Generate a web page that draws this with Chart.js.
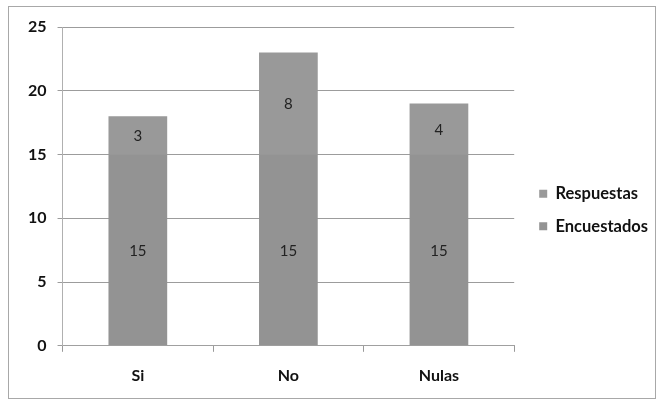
<!DOCTYPE html>
<html><head><meta charset="utf-8">
<script src="https://cdn.jsdelivr.net/npm/chart.js@4.4.0/dist/chart.umd.min.js"></script>
<style>
html,body{margin:0;padding:0;background:#fff;}
#wrap{position:relative;width:660px;height:403px;}
#frame{position:absolute;left:8px;top:6px;width:646px;height:391px;border:1px solid #a8a8a8;pointer-events:none;}
canvas{position:absolute;left:0;top:0;}
</style></head>
<body>
<div id="wrap"><canvas id="c" width="660" height="403"></canvas><div id="frame"></div></div>
<script>
const categories = ["Si", "No", "Nulas"];
const encuestados = [15, 15, 15];
const respuestas = [3, 8, 4];
const yTicks = [0, 5, 10, 15, 20, 25];

const labelPlugin = {
  id: 'barLabels',
  afterDatasetsDraw(chart) {
    const ctx = chart.ctx;
    ctx.save();
    ctx.font = '15px Lato';
    ctx.fillStyle = '#222';
    ctx.textAlign = 'center';
    ctx.textBaseline = 'middle';
    chart.data.datasets.forEach((ds, i) => {
      const meta = chart.getDatasetMeta(i);
      meta.data.forEach((bar, j) => {
        const p = bar.getProps(['x', 'y', 'base'], true);
        ctx.fillText(String(ds.data[j]), p.x, (p.y + p.base) / 2 + 1);
      });
    });
    ctx.restore();
  }
};

// nudge the legend box a little to the right of the plot area
const legendShift = {
  id: 'legendShift',
  afterLayout(chart) {
    const lg = chart.legend;
    if (lg) { lg.left += 9; lg.right += 9; }
  }
};

new Chart(document.getElementById('c'), {
  type: 'bar',
  data: {
    labels: categories,
    datasets: [
      { label: 'Encuestados', data: encuestados, backgroundColor: '#939393', borderWidth: 0 },
      { label: 'Respuestas', data: respuestas, backgroundColor: '#999999', borderWidth: 0 }
    ]
  },
  options: {
    responsive: false,
    animation: false,
    datasets: { bar: { categoryPercentage: 1, barPercentage: 0.39 } },
    layout: { padding: { left: 17, top: 27, right: 11, bottom: 10 } },
    plugins: {
      tooltip: { enabled: false },
      legend: {
        position: 'right',
        reverse: true,
        labels: {
          boxWidth: 8, boxHeight: 8, padding: 16,
          color: '#111',
          font: { family: 'Lato', size: 16.5, weight: 'bold' }
        }
      }
    },
    scales: {
      x: {
        stacked: true,
        afterFit(axis) { axis.height -= 6; },
        grid: { drawOnChartArea: false, offset: true, tickLength: 6, color: '#999' },
        border: { color: '#a0a0a0' },
        ticks: { padding: 14, color: '#111', font: { family: 'Lato', size: 16, weight: 'bold' } }
      },
      y: {
        stacked: true,
        min: 0, max: 25,
        afterBuildTicks(axis) { axis.ticks = yTicks.map(v => ({ value: v })); },
        grid: { color: '#9c9c9c', tickLength: 5 },
        border: { color: '#b0b0b0' },
        ticks: { padding: 11, color: '#111', font: { family: 'Lato', size: 16, weight: 'bold' } }
      }
    }
  },
  plugins: [labelPlugin, legendShift]
});
</script>
</body></html>
